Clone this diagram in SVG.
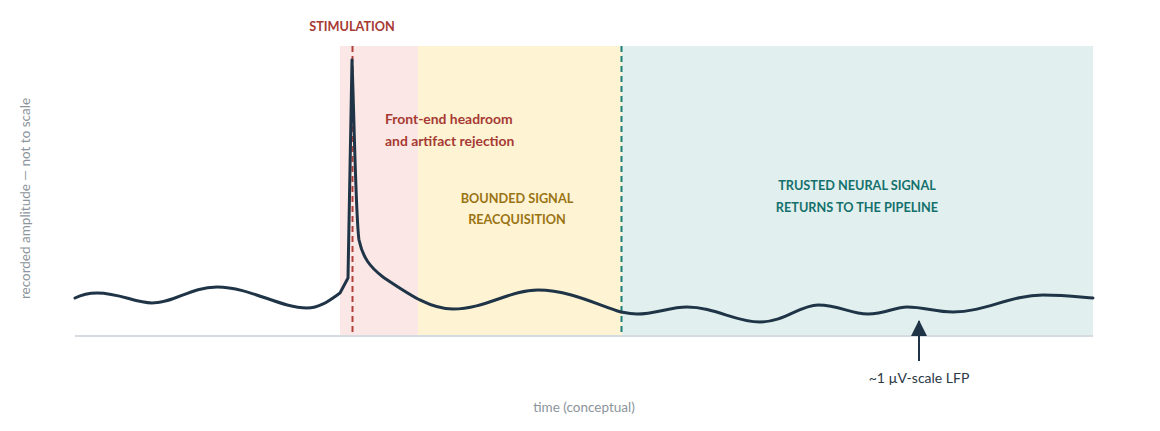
<svg xmlns="http://www.w3.org/2000/svg" width="1160" height="431" viewBox="0 0 1160 431">
  <defs>
    <style>
      text { font-family: Lato, "Noto Sans", "Liberation Sans", sans-serif; }
      .phase { font-size: 12.7px; font-weight: 700; text-anchor: middle; }
      .red { fill: #a63a33; }
      .gold { fill: #9a7414; }
      .teal { fill: #15706d; }
      .axis { font-size: 13.5px; fill: #8b949b; text-anchor: middle; }
      .marker-line { stroke-width: 2; stroke-dasharray: 6 4; fill: none; }
    </style>
    <marker id="arrowhead" viewBox="0 0 16 16" refX="15" refY="8" markerWidth="16" markerHeight="16" markerUnits="userSpaceOnUse" orient="auto">
      <path d="M0,0 L16,8 L0,16 Z" fill="#1f3547"/>
    </marker>
  </defs>
  <rect width="1160" height="431" fill="#ffffff"/>

  <g id="bands">
    <rect id="band-headroom" x="340" y="46" width="78" height="290" fill="#fbe7e5"/>
    <rect id="band-reacquisition" x="418" y="46" width="204" height="290" fill="#fef3d3"/>
    <rect id="band-trusted" x="622" y="46" width="471" height="290" fill="#e1f0ee"/>
  </g>

  <line id="baseline" x1="75" y1="336" x2="1093" y2="336" stroke="#d5dbe0" stroke-width="2"/>

  <g id="stimulation-marker">
    <line class="marker-line" x1="352.5" y1="46" x2="352.5" y2="336" stroke="#b2403a"/>
    <text class="phase red" x="352" y="31">STIMULATION</text>
  </g>
  <g id="return-marker">
    <line class="marker-line" x1="621.5" y1="46" x2="621.5" y2="336" stroke="#1b7f78"/>
  </g>

  <g id="waveform">
    <path d="M75,298 C83,294 90,293 97,293 C120,293 135,303 152,303 C175,303 190,287 217,287 C250,287 280,308 307,308 C320,308 330,300 340,293 L348,278 L352,60 C355,150 356,220 359,240 C363,258 370,267 383,277 C410,295 430,309 453,309 C485,309 510,290 538,290 C570,290 600,306 621,312 C626,313 630,314 637,314 C655,314 670,307 687,307 C715,307 735,322 760,322 C785,322 800,305 818,305 C840,305 850,314 868,314 C885,314 895,307 907,307 C925,307 935,312 953,312 C985,312 1010,295 1043,295 C1065,295 1080,297 1093,298" fill="none" stroke="#1f3547" stroke-width="3" stroke-linejoin="round" stroke-linecap="round"/>
  </g>

  <g id="label-headroom">
    <text class="red" x="385" y="124" font-size="13.9" font-weight="700">Front-end headroom</text>
    <text class="red" x="385" y="146" font-size="13.9" font-weight="700">and artifact rejection</text>
  </g>
  <g id="label-reacquisition">
    <text class="phase gold" x="517" y="203">BOUNDED SIGNAL</text>
    <text class="phase gold" x="517" y="224">REACQUISITION</text>
  </g>
  <g id="label-trusted">
    <text class="phase teal" x="857" y="190">TRUSTED NEURAL SIGNAL</text>
    <text class="phase teal" x="857" y="212">RETURNS TO THE PIPELINE</text>
  </g>

  <g id="connectors">
    <line x1="919" y1="361" x2="919" y2="321" stroke="#1f3547" stroke-width="2" marker-end="url(#arrowhead)"/>
  </g>
  <g id="label-lfp">
    <text x="919" y="383" font-size="14" fill="#2c3a45" text-anchor="middle">~1 µV-scale LFP</text>
  </g>

  <g id="axis-labels">
    <text class="axis" x="584" y="412">time (conceptual)</text>
    <text class="axis" transform="translate(30,198.5) rotate(-90)" x="0" y="0">recorded amplitude — not to scale</text>
  </g>
</svg>
